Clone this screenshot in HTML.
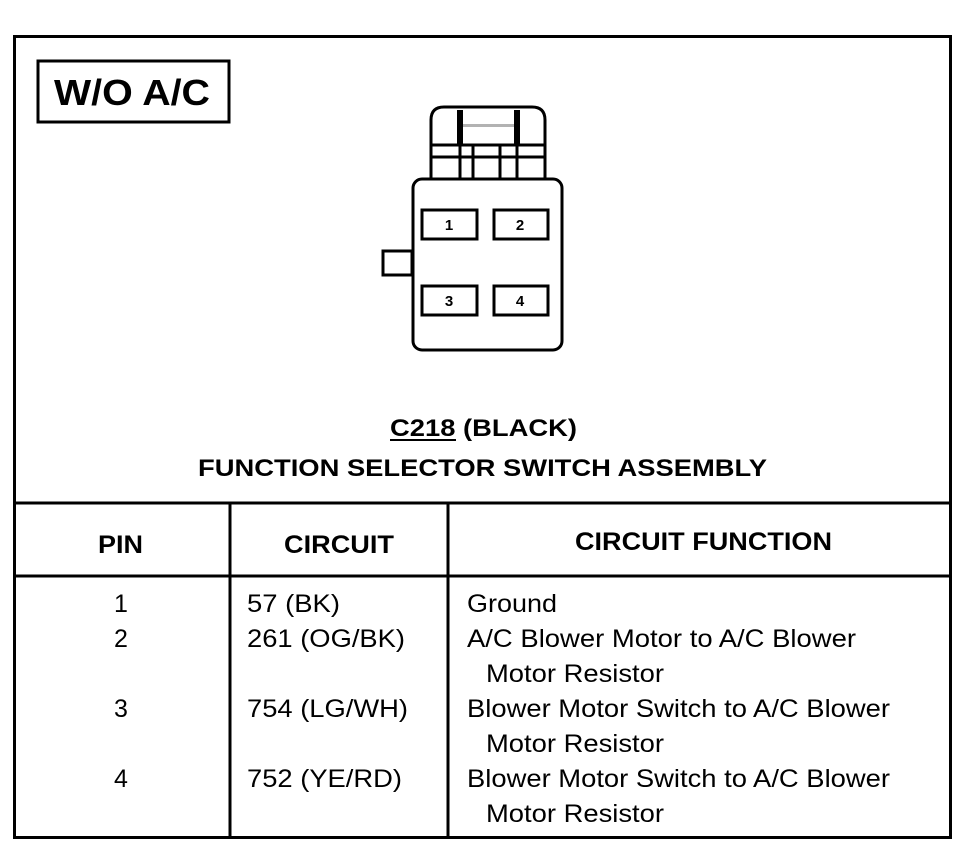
<!DOCTYPE html>
<html><head><meta charset="utf-8"><style>
html,body{margin:0;padding:0;background:#fff;}
svg{display:block;}
text{font-family:"Liberation Sans",Arial,sans-serif;fill:#000;}
.b{font-weight:bold;}
</style></head><body>
<svg width="968" height="864" viewBox="0 0 968 864" xmlns="http://www.w3.org/2000/svg">
<g fill="none" stroke="#000" stroke-width="3">
<rect x="14.5" y="36.5" width="936" height="801"/>
<line x1="14" y1="503" x2="951" y2="503"/>
<line x1="14" y1="576" x2="951" y2="576"/>
<line x1="230" y1="503" x2="230" y2="838"/>
<line x1="448" y1="503" x2="448" y2="838"/>
<rect x="38" y="61" width="191" height="61"/>
</g>
<text class="b" x="54" y="105" font-size="36" textLength="156" lengthAdjust="spacingAndGlyphs">W/O A/C</text>

<g fill="none" stroke="#000" stroke-width="3">
<path d="M431 178 V120 Q431 107 444 107 H532 Q545 107 545 120 V178"/>
<line x1="431" y1="145" x2="545" y2="145"/>
<line x1="431" y1="157" x2="545" y2="157"/>
<line x1="460" y1="145" x2="460" y2="178"/>
<line x1="473" y1="145" x2="473" y2="178"/>
<line x1="500" y1="145" x2="500" y2="178"/>
<line x1="517" y1="145" x2="517" y2="178"/>
<rect x="413" y="179" width="149" height="171" rx="9"/>
<rect x="383" y="251" width="29" height="24"/>
<rect x="422" y="210" width="55" height="29"/>
<rect x="494" y="210" width="54" height="29"/>
<rect x="422" y="286" width="55" height="29"/>
<rect x="494" y="286" width="54" height="29"/>
</g>
<g fill="#000">
<rect x="457" y="110" width="6" height="35"/>
<rect x="514" y="110" width="6" height="35"/>
<rect x="460" y="124" width="57" height="3" opacity="0.3"/>
</g>
<g class="b" font-size="15" text-anchor="middle">
<text class="b" x="449" y="230">1</text>
<text class="b" x="520" y="230">2</text>
<text class="b" x="449" y="306">3</text>
<text class="b" x="520" y="306">4</text>
</g>

<text class="b" x="390" y="436" font-size="24" textLength="187" lengthAdjust="spacingAndGlyphs">C218 (BLACK)</text>
<line x1="390" y1="440" x2="456" y2="440" stroke="#000" stroke-width="2"/>
<text class="b" x="198" y="476" font-size="24" textLength="569" lengthAdjust="spacingAndGlyphs">FUNCTION SELECTOR SWITCH ASSEMBLY</text>

<text class="b" x="98" y="553" font-size="25" textLength="45" lengthAdjust="spacingAndGlyphs">PIN</text>
<text class="b" x="284" y="553" font-size="25" textLength="110" lengthAdjust="spacingAndGlyphs">CIRCUIT</text>
<text class="b" x="575" y="550" font-size="25" textLength="257" lengthAdjust="spacingAndGlyphs">CIRCUIT FUNCTION</text>

<g font-size="25">
<text x="121" y="612" text-anchor="middle">1</text>
<text x="121" y="647" text-anchor="middle">2</text>
<text x="121" y="717" text-anchor="middle">3</text>
<text x="121" y="787" text-anchor="middle">4</text>
<text x="247" y="612" textLength="93" lengthAdjust="spacingAndGlyphs">57 (BK)</text>
<text x="247" y="647" textLength="158" lengthAdjust="spacingAndGlyphs">261 (OG/BK)</text>
<text x="247" y="717" textLength="161" lengthAdjust="spacingAndGlyphs">754 (LG/WH)</text>
<text x="247" y="787" textLength="155" lengthAdjust="spacingAndGlyphs">752 (YE/RD)</text>
<text x="467" y="612" textLength="90" lengthAdjust="spacingAndGlyphs">Ground</text>
<text x="467" y="647" textLength="389" lengthAdjust="spacingAndGlyphs">A/C Blower Motor to A/C Blower</text>
<text x="486" y="682" textLength="178" lengthAdjust="spacingAndGlyphs">Motor Resistor</text>
<text x="467" y="717" textLength="423" lengthAdjust="spacingAndGlyphs">Blower Motor Switch to A/C Blower</text>
<text x="486" y="752" textLength="178" lengthAdjust="spacingAndGlyphs">Motor Resistor</text>
<text x="467" y="787" textLength="423" lengthAdjust="spacingAndGlyphs">Blower Motor Switch to A/C Blower</text>
<text x="486" y="822" textLength="178" lengthAdjust="spacingAndGlyphs">Motor Resistor</text>
</g>
</svg>
</body></html>
